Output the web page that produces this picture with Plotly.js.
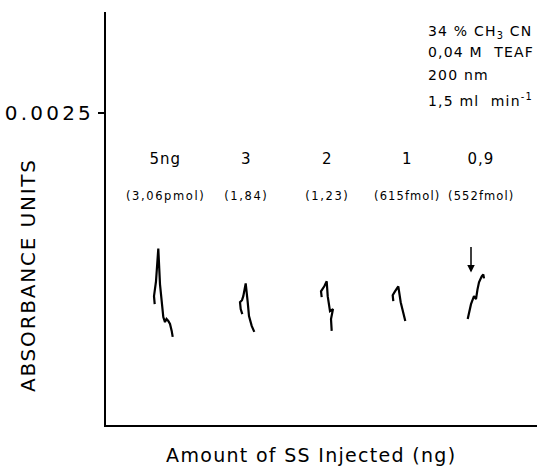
<!DOCTYPE html>
<html>
<head>
<meta charset="utf-8">
<script src="https://cdn.plot.ly/plotly-3.0.1.min.js"></script>
<style>
html,body{margin:0;padding:0;background:#fff;}
#chart{width:537px;height:467px;}
</style>
</head>
<body>
<div id="chart"></div>
<script>
// Injected amounts and corresponding molar amounts
const amounts = ["5ng", "3", "2", "1", "0,9"];
const molLabels = ["(3,06pmol)", "(1,84)", "(1,23)", "(615fmol)", "(552fmol)"];
// Position of each chromatogram along the chart (arbitrary distance units)
const peakPos = [59, 140, 221, 301, 375];

// Chromatogram traces: x = chart distance, y = absorbance (AU)
const trace5ngX = [48.7, 48, 50, 51.3, 52.3, 54, 55.7, 57.3, 59, 60.5, 62.3, 64, 65.7, 66.7];
const trace5ngY = [0.000968, 0.001032, 0.001151, 0.001270, 0.001413, 0.001127, 0.000992, 0.000865, 0.000825, 0.000849, 0.000833, 0.000810, 0.000754, 0.000706];
const trace3X = [136.3, 134.7, 134, 136, 137.3, 139.7, 141.7, 143, 145.7, 148.3];
const trace3Y = [0.000889, 0.000929, 0.000984, 0.001000, 0.001032, 0.001135, 0.000984, 0.000873, 0.000794, 0.000746];
const trace2X = [215.7, 215, 218.3, 220.7, 221.7, 224, 227, 225, 225.7];
const trace2Y = [0.001024, 0.001071, 0.001111, 0.001151, 0.001032, 0.000913, 0.000929, 0.000849, 0.000754];
const trace1X = [287.3, 286.7, 289, 292.3, 294.7, 297.3, 299.3];
const trace1Y = [0.000992, 0.001040, 0.001071, 0.001111, 0.000984, 0.000905, 0.000833];
const trace09X = [361.7, 365, 368, 370, 371.5, 373, 375.7, 377.3, 378];
const trace09Y = [0.000849, 0.000968, 0.001032, 0.001008, 0.001087, 0.001143, 0.001191, 0.001206, 0.001175];
const arrowX = 365, arrowY = 0.001222;

const amountY = 0.002135, molY = 0.001833;
const yTicks = [0.0025];
const yTickText = ["0.0025"];
const conditions = ["34 % CH<sub>3</sub> CN", "0,04 M  TEAF", "200 nm", "1,5 ml  min<sup>-1</sup>"];

const FONT = "DejaVu Sans, Arial, sans-serif";
const lineStyle = {color: "#000", width: 2.2};
const series = [
  [trace5ngX, trace5ngY], [trace3X, trace3Y], [trace2X, trace2Y],
  [trace1X, trace1Y], [trace09X, trace09Y]
];
const data = series.map((s, i) => ({
  x: s[0], y: s[1], type: "scatter", mode: "lines",
  line: lineStyle, name: amounts[i], showlegend: false, hoverinfo: "skip"
}));

const annotations = [];
amounts.forEach((a, i) => {
  annotations.push({x: peakPos[i], y: amountY, xref: "x", yref: "y", text: a,
    showarrow: false, font: {family: FONT, size: 15, color: "#000"}});
  annotations.push({x: peakPos[i], y: molY, xref: "x", yref: "y", text: molLabels[i],
    showarrow: false, font: {family: FONT, size: 11.5, color: "#000"}});
});
const condY = [0.952, 0.903, 0.847, 0.787];
conditions.forEach((c, i) => {
  annotations.push({x: 0.743, y: condY[i], xref: "paper", yref: "paper", text: c,
    xanchor: "left", yanchor: "middle", align: "left", showarrow: false,
    font: {family: FONT, size: 14, color: "#000"}});
});
// injection arrow
annotations.push({x: arrowX, y: arrowY, xref: "x", yref: "y", text: "", showarrow: true,
  arrowhead: 2, arrowsize: 1, arrowwidth: 1.5, arrowcolor: "#000", ax: 0, ay: -27});
// axis titles
annotations.push({x: 0.476, y: 0, xref: "paper", yref: "paper", yshift: -30,
  text: "Amount of SS Injected (ng)", showarrow: false, yanchor: "middle",
  font: {family: FONT, size: 19, color: "#000"}});
annotations.push({x: -0.181, y: 0.364, xref: "paper", yref: "paper", xanchor: "center", yanchor: "middle",
  text: "ABSORBANCE UNITS", textangle: -90, showarrow: false,
  font: {family: FONT, size: 20, color: "#000"}});

const layout = {
  width: 537, height: 467,
  margin: {l: 106, r: 0, t: 12, b: 42, pad: 0},
  paper_bgcolor: "#fff", plot_bgcolor: "#fff",
  showlegend: false,
  xaxis: {range: [0, 431], showline: true, linecolor: "#000", linewidth: 2,
    showgrid: false, zeroline: false, showticklabels: false, ticks: "", fixedrange: true},
  yaxis: {range: [0, 0.003309], showline: true, linecolor: "#000", linewidth: 2,
    showgrid: false, zeroline: false, ticks: "outside", ticklen: 6, tickwidth: 1.5, tickcolor: "#000",
    tickvals: yTicks, ticktext: yTickText, tickfont: {family: FONT, size: 20, color: "#000"},
    fixedrange: true},
  annotations: annotations
};

// wider letter spacing to mimic the original lettering
const spacing = {
  "0.0025": "3.2px",
  "ABSORBANCE UNITS": "1.8px",
  "Amount of SS Injected (ng)": "1.3px",
  "(3,06pmol)": "1.6px", "(1,84)": "1.6px", "(1,23)": "1.6px", "(615fmol)": "1.1px", "(552fmol)": "1.1px",
  "5ng": "1px", "0,9": "1px"
};

Plotly.newPlot("chart", data, layout, {staticPlot: true, displayModeBar: false}).then(gd => {
  gd.querySelectorAll("text").forEach(t => {
    const s = t.textContent.trim();
    if (spacing[s]) t.style.letterSpacing = spacing[s];
    else if (t.closest(".annotation") && /CN|TEAF|nm|min/.test(s)) t.style.letterSpacing = "1.2px";
  });
});
</script>
</body>
</html>
